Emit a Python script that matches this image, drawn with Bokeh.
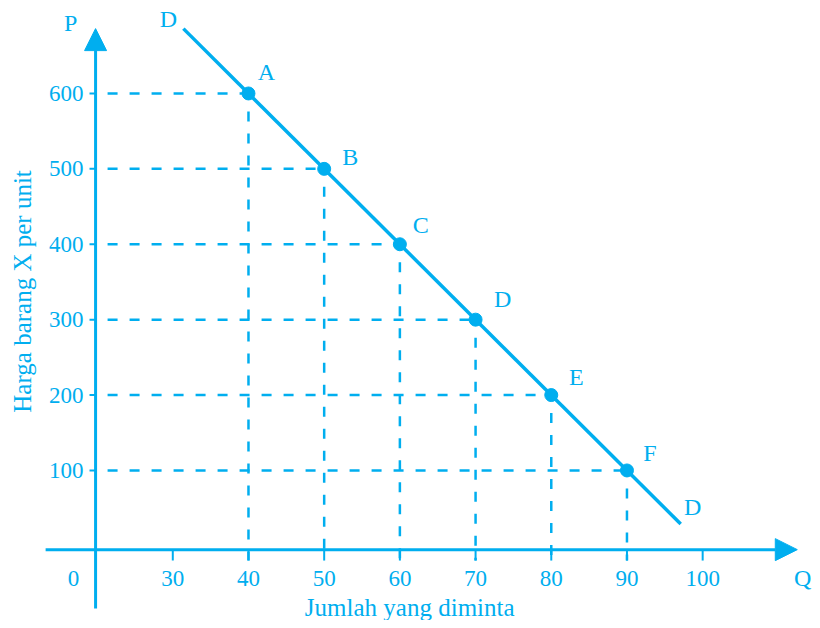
from math import pi
from bokeh.plotting import figure
from bokeh.models import ColumnDataSource, Arrow, NormalHead, Range1d
from bokeh.embed import file_html
from bokeh.resources import INLINE
from bokeh.core.properties import value

# ---------------- data ----------------
point_names = ["A", "B", "C", "D", "E", "F"]
quantity = [40, 50, 60, 70, 80, 90]
price = [600, 500, 400, 300, 200, 100]

# demand curve D (end points)
demand_q = [31.4, 97.1]
demand_p = [686, 29]

x_ticks = [30, 40, 50, 60, 70, 80, 90, 100]
x_tick_labels = ["30", "40", "50", "60", "70", "80", "90", "100"]
y_ticks = [100, 200, 300, 400, 500, 600]
y_tick_labels = ["100", "200", "300", "400", "500", "600"]

x_title = "Jumlah yang diminta"
y_title = "Harga barang X per unit"

# ---------------- style ----------------
COLOR = "#00aeef"
FONT = "Liberation Serif"
W, H = 812, 620

Y_AXIS_Q = 19.8      # where the vertical axis is drawn (broken axis)
X_AXIS_P = -5        # where the horizontal axis is drawn
DROP_P = -19.5       # how far dashed drops go below the axis
LABEL_P = -43        # tick label row

p = figure(width=W, height=H,
           x_range=Range1d(7.24, 114.51), y_range=Range1d(-99.0, 723.3),
           x_axis_type=None, y_axis_type=None,
           output_backend="svg", toolbar_location=None,
           min_border=0, min_border_left=0, min_border_right=0,
           min_border_top=0, min_border_bottom=0)
p.grid.visible = False
p.outline_line_color = None
p.background_fill_color = "white"
p.border_fill_color = "white"

# ---- axes with arrows ----
p.add_layout(Arrow(end=NormalHead(size=22, fill_color=COLOR, line_color=COLOR),
                   x_start=Y_AXIS_Q, y_start=-83, x_end=Y_AXIS_Q, y_end=686,
                   line_color=COLOR, line_width=3))
p.add_layout(Arrow(end=NormalHead(size=22, fill_color=COLOR, line_color=COLOR),
                   x_start=13.2, y_start=X_AXIS_P, x_end=112.5, y_end=X_AXIS_P,
                   line_color=COLOR, line_width=3))

# tick marks
p.segment(x0=[Y_AXIS_Q - 0.8] * len(y_ticks), x1=[Y_AXIS_Q] * len(y_ticks),
          y0=y_ticks, y1=y_ticks, line_color=COLOR, line_width=2)
p.segment(x0=x_ticks, x1=x_ticks, y0=[X_AXIS_P] * len(x_ticks),
          y1=[DROP_P] * len(x_ticks), line_color=COLOR, line_width=2)

# dashed guides
p.segment(x0=[Y_AXIS_Q] * len(quantity), x1=quantity, y0=price, y1=price,
          line_color=COLOR, line_width=2.5, line_dash="10 12", line_dash_offset=10)
p.segment(x0=quantity, x1=quantity, y0=price, y1=[DROP_P] * len(quantity),
          line_color=COLOR, line_width=2.5, line_dash="10 12", line_dash_offset=4)

# demand line and points
p.line(demand_q, demand_p, line_color=COLOR, line_width=3.5)
p.scatter(quantity, price, size=13, fill_color=COLOR, line_color=COLOR)

txt = dict(text_font=value(FONT), text_color=COLOR)

# point labels
lbl_dx = [18, 26, 21, 27, 25, 23]
lbl_dy = [-21, -12, -19, -21, -18, -17]
src = ColumnDataSource(dict(x=quantity, y=price, t=point_names, dx=lbl_dx, dy=lbl_dy))
p.text(x="x", y="y", text="t", x_offset="dx", y_offset="dy", source=src,
       text_font_size="24px", text_align="center", text_baseline="middle", **txt)

# D labels at curve ends
p.text(x=[demand_q[0], demand_q[1]], y=[demand_p[0], demand_p[1]], text=["D", "D"],
       x_offset=[-15, 12], y_offset=[-10, -17],
       text_font_size="24px", text_align="center", text_baseline="middle", **txt)

# tick labels
p.text(x=x_ticks, y=[LABEL_P] * len(x_ticks), text=x_tick_labels,
       text_font_size="23px", text_align="center", text_baseline="middle", **txt)
p.text(x=[Y_AXIS_Q - 1.6] * len(y_ticks), y=y_ticks, text=y_tick_labels,
       text_font_size="23px", text_align="right", text_baseline="middle", **txt)
p.text(x=[16.9], y=[LABEL_P], text=["0"],
       text_font_size="23px", text_align="center", text_baseline="middle", **txt)

# axis letters
p.text(x=[16.5], y=[694], text=["P"], text_font_size="24px",
       text_align="center", text_baseline="middle", **txt)
p.text(x=[113.2], y=[LABEL_P], text=["Q"], text_font_size="24px",
       text_align="center", text_baseline="middle", **txt)

# titles
p.text(x=[61.3], y=[-81.7], text=[x_title], text_font_size="25px",
       text_align="center", text_baseline="middle", **txt)
p.text(x=[10.15], y=[337.4], text=[y_title], text_font_size="25px", angle=pi / 2,
       text_align="center", text_baseline="middle", **txt)

open("out.html", "w").write(file_html(p, INLINE))
